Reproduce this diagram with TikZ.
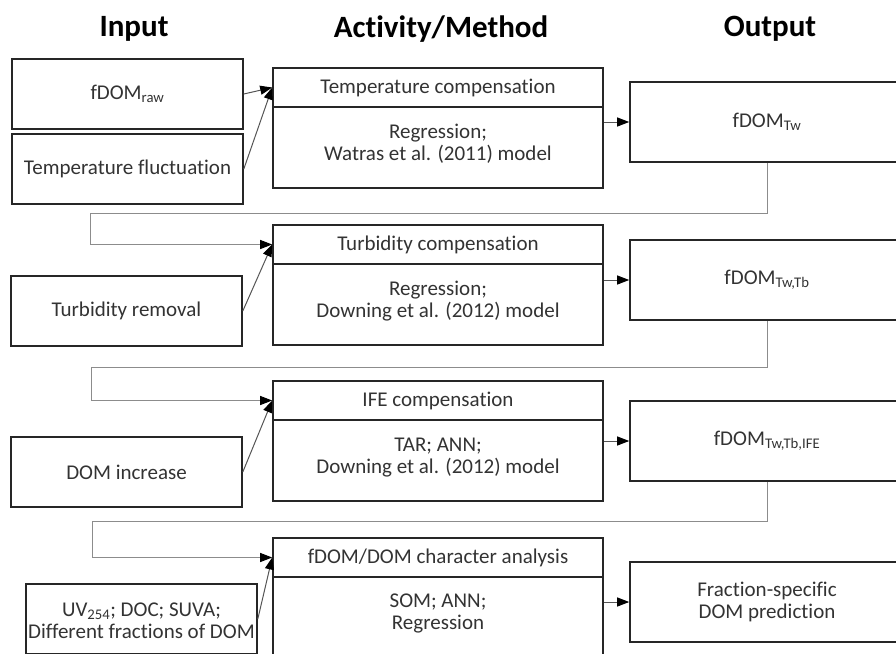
\documentclass[tikz,border=0pt]{standalone}
\usepackage{fontspec}
\setmainfont[Ligatures=NoCommon]{Carlito}
\usetikzlibrary{arrows.meta}
\definecolor{boxline}{HTML}{262626}
\definecolor{txt}{HTML}{333333}
\definecolor{loopline}{HTML}{8C8C8C}
\definecolor{diagline}{HTML}{555555}
\begin{document}
\begin{tikzpicture}[x=1pt,y=-1pt,
  box/.style={draw=boxline, line width=1.6pt, fill=white, inner sep=0pt, align=center,
    text=txt, font=\fontsize{21}{22}\selectfont},
  inbox/.style={box, minimum width=231pt, minimum height=70pt},
  acttop/.style={box, minimum width=330pt, minimum height=39pt},
  actbot/.style={box, minimum width=330pt, minimum height=81pt},
  outbox/.style={box, minimum width=274pt, minimum height=80pt},
  lbl/.style={inner sep=0pt, align=center, text=txt, font=\fontsize{21}{22}\selectfont},
  head/.style={inner sep=0pt, font=\fontsize{31}{34}\selectfont\bfseries},
  looparrow/.style={draw=loopline, line width=1pt, -{Triangle[length=12pt,width=9pt,color=black]}},
  diagarrow/.style={draw=diagline, line width=1pt, -{Triangle[length=12pt,width=9pt,color=black]}},
  outarrow/.style={draw=diagline, line width=1pt, -{Triangle[length=12pt,width=9pt,color=black]}}
]
\path[use as bounding box] (0,0) rectangle (896,653);
\clip (0,0) rectangle (896,653);

% headers
\node[head] (hin) at (134,29) {Input};
\node[head] (hact) at (441,29) {Activity/Method};
\node[head] (hout) at (770,29) {Output};

% input boxes
\node[inbox] (raw) at (127.5,94) {fDOM\textsubscript{raw}};
\node[inbox] (tf) at (127.5,169) {Temperature fluctuation};
\node[inbox] (tr) at (126.5,311) {Turbidity removal};
\node[inbox] (di) at (126.5,472) {DOM increase};
\node[inbox] (uv) at (141.5,619) {};
\node[lbl] (uvt) at (141.5,620.5) {UV\textsubscript{254}; DOC; SUVA;\\Different fractions of DOM};

% activity boxes
\node[actbot] (a1b) at (438,147.5) {};
\node[acttop] (a1t) at (438,87.5) {Temperature compensation};
\node[lbl] (a1x) at (438,144) {Regression;\\Watras et al. (2011) model};

\node[actbot] (a2b) at (438,304.5) {};
\node[acttop] (a2t) at (438,244.5) {Turbidity compensation};
\node[lbl] (a2x) at (438,301) {Regression;\\Downing et al. (2012) model};

\node[actbot] (a3b) at (438,460.5) {};
\node[acttop] (a3t) at (438,400.5) {IFE compensation};
\node[lbl] (a3x) at (438,458) {TAR; ANN;\\Downing et al. (2012) model};

\node[actbot] (a4b) at (438,617.5) {};
\node[acttop] (a4t) at (438,557.5) {fDOM/DOM character analysis};
\node[lbl] (a4x) at (438,613) {SOM; ANN;\\Regression};

% output boxes
\node[outbox] (o1) at (767,122) {fDOM\textsubscript{Tw}};
\node[outbox] (o2) at (767,280) {fDOM\textsubscript{Tw,Tb}};
\node[outbox] (o3) at (767,441) {fDOM\textsubscript{Tw,Tb,IFE}};
\node[outbox] (o4) at (767,602) {Fraction-specific\\DOM prediction};

% activity -> output
\draw[outarrow] (o1.west -| a1b.east) -- (o1.west);
\draw[outarrow] (o2.west -| a2b.east) -- (o2.west);
\draw[outarrow] (o3.west -| a3b.east) -- (o3.west);
\draw[outarrow] (o4.west -| a4b.east) -- (o4.west);

% input -> activity
\draw[diagarrow] (raw.east) -- (a1t.west);
\draw[diagarrow] (tf.east) -- (a1t.west);
\draw[diagarrow] (tr.east) -- (a2t.west);
\draw[diagarrow] (di.east) -- (a3t.west);
\draw[diagarrow] (uv.east) -- (a4t.west);

% feedback loops
\coordinate (l1) at (90,213);
\coordinate (l2) at (91,367);
\coordinate (l3) at (92,521);
\draw[looparrow] (o1.south) |- (l1) |- (a2t.west);
\draw[looparrow] (o2.south) |- (l2) |- (a3t.west);
\draw[looparrow] (o3.south) |- (l3) |- (a4t.west);
\end{tikzpicture}
\end{document}
